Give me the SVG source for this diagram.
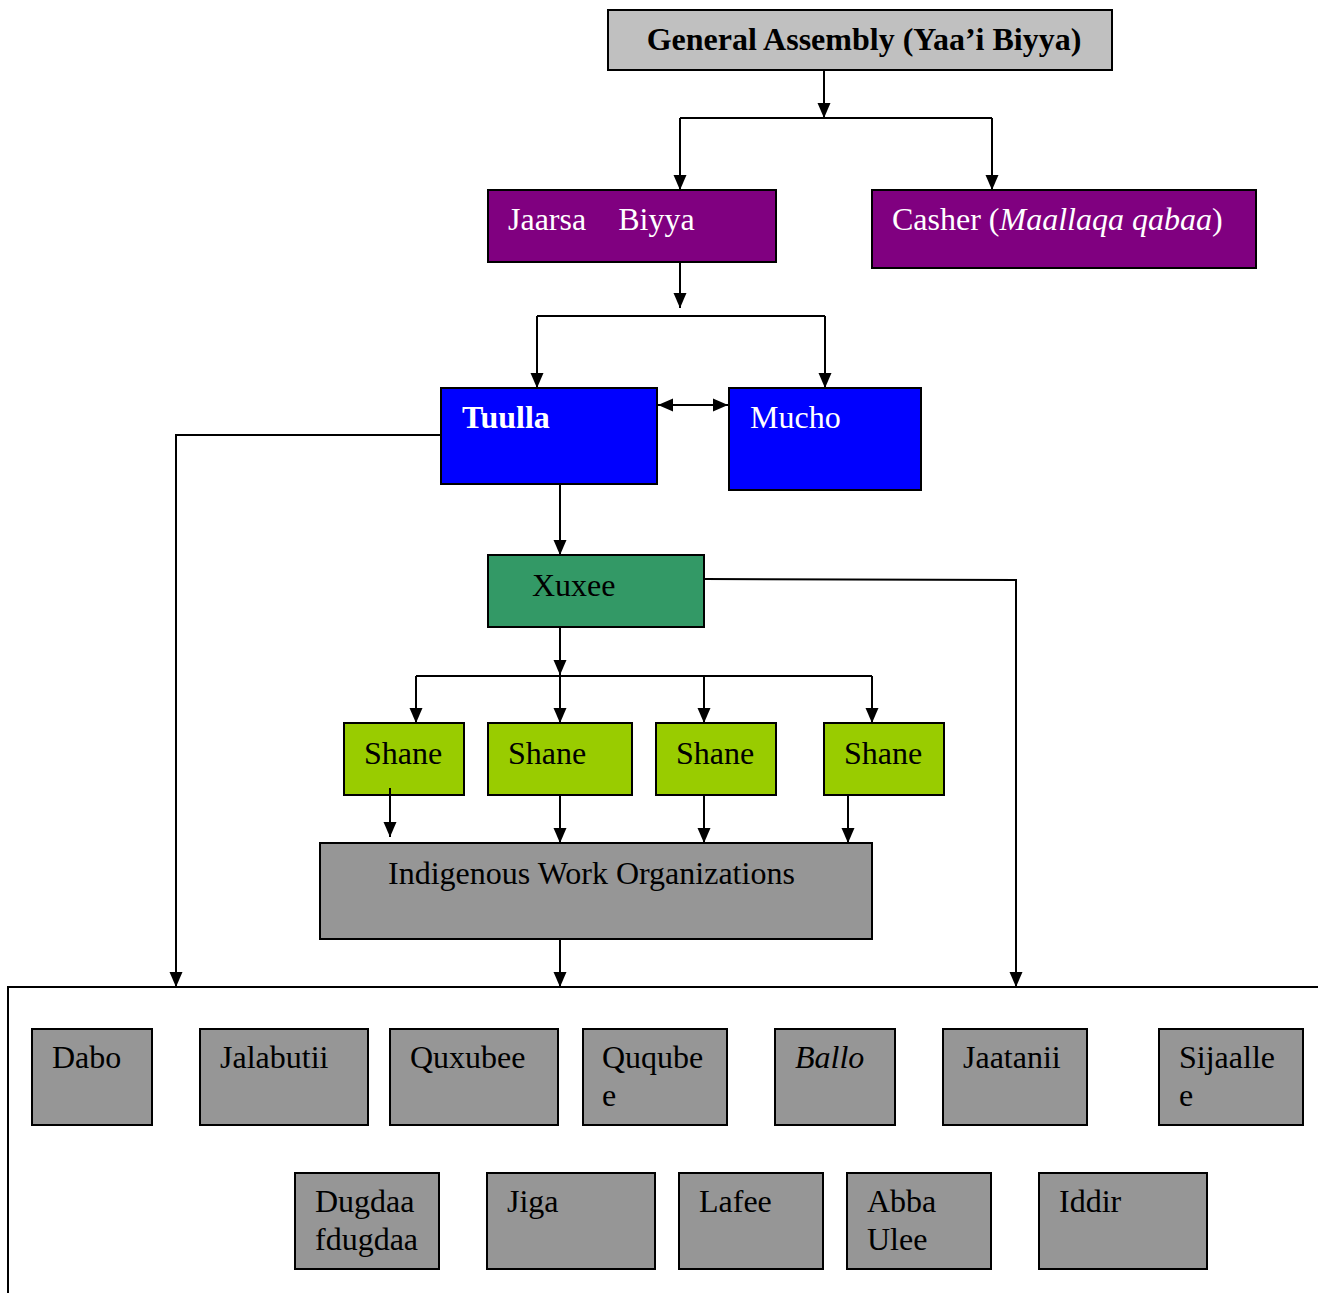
<svg xmlns="http://www.w3.org/2000/svg" width="1318" height="1293" viewBox="0 0 1318 1293">
  <defs>
    <marker id="arr" markerUnits="userSpaceOnUse" markerWidth="15" markerHeight="14" refX="15" refY="7" orient="auto-start-reverse">
      <path d="M0,0.5 L15,7 L0,13.5 z" fill="#000"/>
    </marker>
    <style>
      .box { stroke: #000; stroke-width: 2; }
      .grey { fill: #c0c0c0; }
      .purple { fill: #800080; }
      .blue { fill: #0000ff; }
      .teal { fill: #339966; }
      .lime { fill: #99cc00; }
      .dark { fill: #969696; }
      .t { font-family: "Liberation Serif", "Times New Roman", serif; font-size: 32px; fill: #000; }
      .w { fill: #fff; }
      .b { font-weight: bold; }
      .conn { fill: none; stroke: #000; stroke-width: 2; }
      .arrow { marker-end: url(#arr); }
    </style>
  </defs>
  <rect width="1318" height="1293" fill="#fff"/>

  <!-- container of the work organizations -->
  <path id="container" class="conn" d="M8,1293 V987 H1318"/>

  <g id="general-assembly">
    <rect class="box grey" x="608" y="10" width="504" height="60"/>
    <text class="t b" x="864" y="50" text-anchor="middle">General Assembly (Yaa’i Biyya)</text>
  </g>
  <g id="jaarsa-biyya">
    <rect class="box purple" x="488" y="190" width="288" height="72"/>
    <text class="t w" x="508" y="230" xml:space="preserve">Jaarsa    Biyya</text>
  </g>
  <g id="casher">
    <rect class="box purple" x="872" y="190" width="384" height="78"/>
    <text class="t w" x="892" y="230">Casher (<tspan font-style="italic">Maallaqa qabaa</tspan>)</text>
  </g>
  <g id="tuulla">
    <rect class="box blue" x="441" y="388" width="216" height="96"/>
    <text class="t w b" x="462" y="428">Tuulla</text>
  </g>
  <g id="mucho">
    <rect class="box blue" x="729" y="388" width="192" height="102"/>
    <text class="t w" x="750" y="428">Mucho</text>
  </g>
  <g id="xuxee">
    <rect class="box teal" x="488" y="555" width="216" height="72"/>
    <text class="t" x="532" y="596">Xuxee</text>
  </g>
  <g id="shane-1">
    <rect class="box lime" x="344" y="723" width="120" height="72"/>
    <text class="t" x="364" y="764">Shane</text>
  </g>
  <g id="shane-2">
    <rect class="box lime" x="488" y="723" width="144" height="72"/>
    <text class="t" x="508" y="764">Shane</text>
  </g>
  <g id="shane-3">
    <rect class="box lime" x="656" y="723" width="120" height="72"/>
    <text class="t" x="676" y="764">Shane</text>
  </g>
  <g id="shane-4">
    <rect class="box lime" x="824" y="723" width="120" height="72"/>
    <text class="t" x="844" y="764">Shane</text>
  </g>
  <g id="indigenous">
    <rect class="box dark" x="320" y="843" width="552" height="96"/>
    <text class="t" x="388" y="884">Indigenous Work Organizations</text>
  </g>

  <!-- first row of organizations -->
  <g id="dabo">
    <rect class="box dark" x="32" y="1029" width="120" height="96"/>
    <text class="t" x="52" y="1068">Dabo</text>
  </g>
  <g id="jalabutii">
    <rect class="box dark" x="200" y="1029" width="168" height="96"/>
    <text class="t" x="220" y="1068">Jalabutii</text>
  </g>
  <g id="quxubee">
    <rect class="box dark" x="390" y="1029" width="168" height="96"/>
    <text class="t" x="410" y="1068">Quxubee</text>
  </g>
  <g id="ququbee">
    <rect class="box dark" x="583" y="1029" width="144" height="96"/>
    <text class="t" x="602" y="1068">Quqube</text>
    <text class="t" x="602" y="1106">e</text>
  </g>
  <g id="ballo">
    <rect class="box dark" x="775" y="1029" width="120" height="96"/>
    <text class="t" x="795" y="1068" font-style="italic">Ballo</text>
  </g>
  <g id="jaatanii">
    <rect class="box dark" x="943" y="1029" width="144" height="96"/>
    <text class="t" x="963" y="1068">Jaatanii</text>
  </g>
  <g id="sijaallee">
    <rect class="box dark" x="1159" y="1029" width="144" height="96"/>
    <text class="t" x="1179" y="1068">Sijaalle</text>
    <text class="t" x="1179" y="1106">e</text>
  </g>

  <!-- second row of organizations -->
  <g id="dugdaa">
    <rect class="box dark" x="295" y="1173" width="144" height="96"/>
    <text class="t" x="315" y="1212">Dugdaa</text>
    <text class="t" x="315" y="1250">fdugdaa</text>
  </g>
  <g id="jiga">
    <rect class="box dark" x="487" y="1173" width="168" height="96"/>
    <text class="t" x="507" y="1212">Jiga</text>
  </g>
  <g id="lafee">
    <rect class="box dark" x="679" y="1173" width="144" height="96"/>
    <text class="t" x="699" y="1212">Lafee</text>
  </g>
  <g id="abba-ulee">
    <rect class="box dark" x="847" y="1173" width="144" height="96"/>
    <text class="t" x="867" y="1212">Abba</text>
    <text class="t" x="867" y="1250">Ulee</text>
  </g>
  <g id="iddir">
    <rect class="box dark" x="1039" y="1173" width="168" height="96"/>
    <text class="t" x="1059" y="1212">Iddir</text>
  </g>

  <!-- connectors, drawn above the boxes -->
  <g id="connectors">
    <path class="conn arrow" d="M824,71 V118"/>
    <path class="conn" d="M680,118 H992"/>
    <path class="conn arrow" d="M680,118 V190"/>
    <path class="conn arrow" d="M992,118 V190"/>
    <path class="conn arrow" d="M680,263 V308"/>
    <path class="conn" d="M537,316 H825"/>
    <path class="conn arrow" d="M537,316 V388"/>
    <path class="conn arrow" d="M825,316 V388"/>
    <path class="conn arrow" d="M658,405 H728" marker-start="url(#arr)"/>
    <path class="conn arrow" d="M440,435 H176 V987"/>
    <path class="conn arrow" d="M560,485 V555"/>
    <path class="conn arrow" d="M705,579 L1016,580 V987"/>
    <path class="conn arrow" d="M560,628 V675"/>
    <path class="conn" d="M416,676 H872"/>
    <path class="conn arrow" d="M416,676 V723"/>
    <path class="conn arrow" d="M560,676 V723"/>
    <path class="conn arrow" d="M704,676 V723"/>
    <path class="conn arrow" d="M872,676 V723"/>
    <path class="conn arrow" d="M390,788 V837"/>
    <path class="conn arrow" d="M560,796 V843"/>
    <path class="conn arrow" d="M704,796 V843"/>
    <path class="conn arrow" d="M848,796 V843"/>
    <path class="conn arrow" d="M560,940 V987"/>
  </g>
</svg>
